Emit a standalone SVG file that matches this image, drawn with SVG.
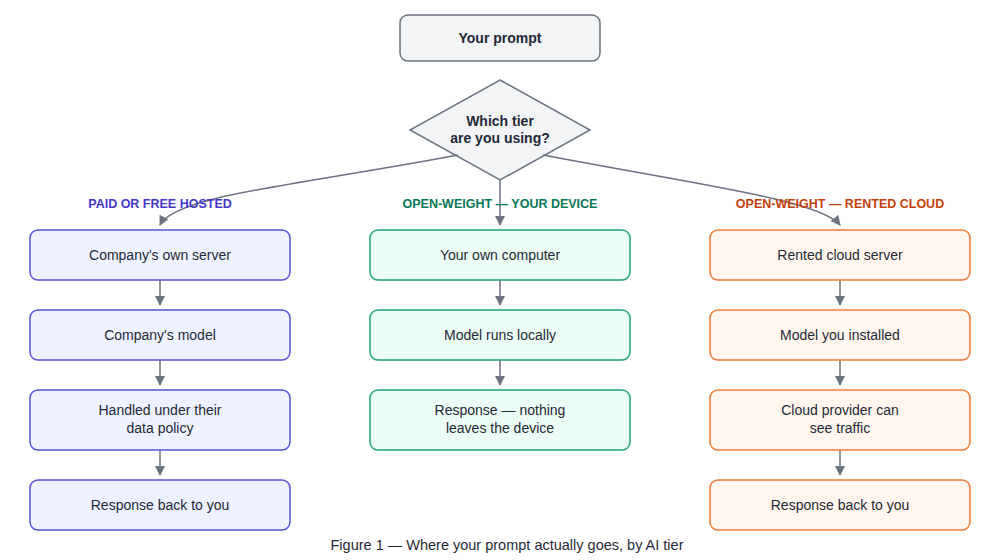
<svg xmlns="http://www.w3.org/2000/svg" width="1000" height="560" viewBox="0 0 1000 560">
<defs>
<marker id="ah" viewBox="0 0 10 10" refX="9" refY="5" markerWidth="10" markerHeight="10" markerUnits="userSpaceOnUse" orient="auto"><path d="M0,0 L10,5 L0,10 z" fill="#6b7280"/></marker>
<style>
text{font-family:"Liberation Sans",Arial,sans-serif;font-size:14px;fill:#1f2937;text-anchor:middle}
.b{font-weight:bold}
.lbl{font-size:12.5px;font-weight:bold}
.c{fill:none;stroke:#6b7280;stroke-width:1.5;marker-end:url(#ah)}
.blue{fill:#eef2ff;stroke:#5b50e0;stroke-width:1.5}
.green{fill:#ecfdf5;stroke:#20a37a;stroke-width:1.5}
.orange{fill:#fff7ed;stroke:#f27a35;stroke-width:1.5}
</style>
</defs>
<rect width="1000" height="560" fill="#fff"/>
<g id="prompt"><rect x="400" y="15" width="200" height="46" rx="8" fill="#f3f4f6" stroke="#6b7280" stroke-width="1.5"/><text x="500" y="43" class="b">Your prompt</text></g>
<g id="decision"><polygon points="500,80 590,130 500,180 410,130" fill="#f3f4f6" stroke="#6b7280" stroke-width="1.5"/><text x="500" y="126" class="b">Which tier</text><text x="500" y="143" class="b">are you using?</text></g>
<g id="connectors">
<path class="c" d="M458,155 C300,185 175,195 160,225"/>
<path class="c" d="M500,180 L500,225"/>
<path class="c" d="M543,155 C700,185 820,200 840,225"/>
<path class="c" d="M160,280 V305"/><path class="c" d="M160,360 V385"/><path class="c" d="M160,450 V475"/>
<path class="c" d="M500,280 V305"/><path class="c" d="M500,360 V385"/>
<path class="c" d="M840,280 V305"/><path class="c" d="M840,360 V385"/><path class="c" d="M840,450 V475"/>
</g>
<g id="labels">
<text x="160" y="208" class="lbl" style="fill:#4338ca">PAID OR FREE HOSTED</text>
<text x="500" y="208" class="lbl" style="fill:#047857">OPEN-WEIGHT — YOUR DEVICE</text>
<text x="840" y="208" class="lbl" style="fill:#c2410c">OPEN-WEIGHT — RENTED CLOUD</text>
</g>
<g id="b1"><rect class="blue" x="30" y="230" width="260" height="50" rx="8"/><text x="160" y="260">Company's own server</text></g>
<g id="b2"><rect class="blue" x="30" y="310" width="260" height="50" rx="8"/><text x="160" y="340">Company's model</text></g>
<g id="b3"><rect class="blue" x="30" y="390" width="260" height="60" rx="8"/><text x="160" y="415">Handled under their</text><text x="160" y="433">data policy</text></g>
<g id="b4"><rect class="blue" x="30" y="480" width="260" height="50" rx="8"/><text x="160" y="510">Response back to you</text></g>
<g id="g1"><rect class="green" x="370" y="230" width="260" height="50" rx="8"/><text x="500" y="260">Your own computer</text></g>
<g id="g2"><rect class="green" x="370" y="310" width="260" height="50" rx="8"/><text x="500" y="340">Model runs locally</text></g>
<g id="g3"><rect class="green" x="370" y="390" width="260" height="60" rx="8"/><text x="500" y="415">Response — nothing</text><text x="500" y="433">leaves the device</text></g>
<g id="o1"><rect class="orange" x="710" y="230" width="260" height="50" rx="8"/><text x="840" y="260">Rented cloud server</text></g>
<g id="o2"><rect class="orange" x="710" y="310" width="260" height="50" rx="8"/><text x="840" y="340">Model you installed</text></g>
<g id="o3"><rect class="orange" x="710" y="390" width="260" height="60" rx="8"/><text x="840" y="415">Cloud provider can</text><text x="840" y="433">see traffic</text></g>
<g id="o4"><rect class="orange" x="710" y="480" width="260" height="50" rx="8"/><text x="840" y="510">Response back to you</text></g>
<text x="507" y="550" style="font-size:14.5px">Figure 1 — Where your prompt actually goes, by AI tier</text>
</svg>
